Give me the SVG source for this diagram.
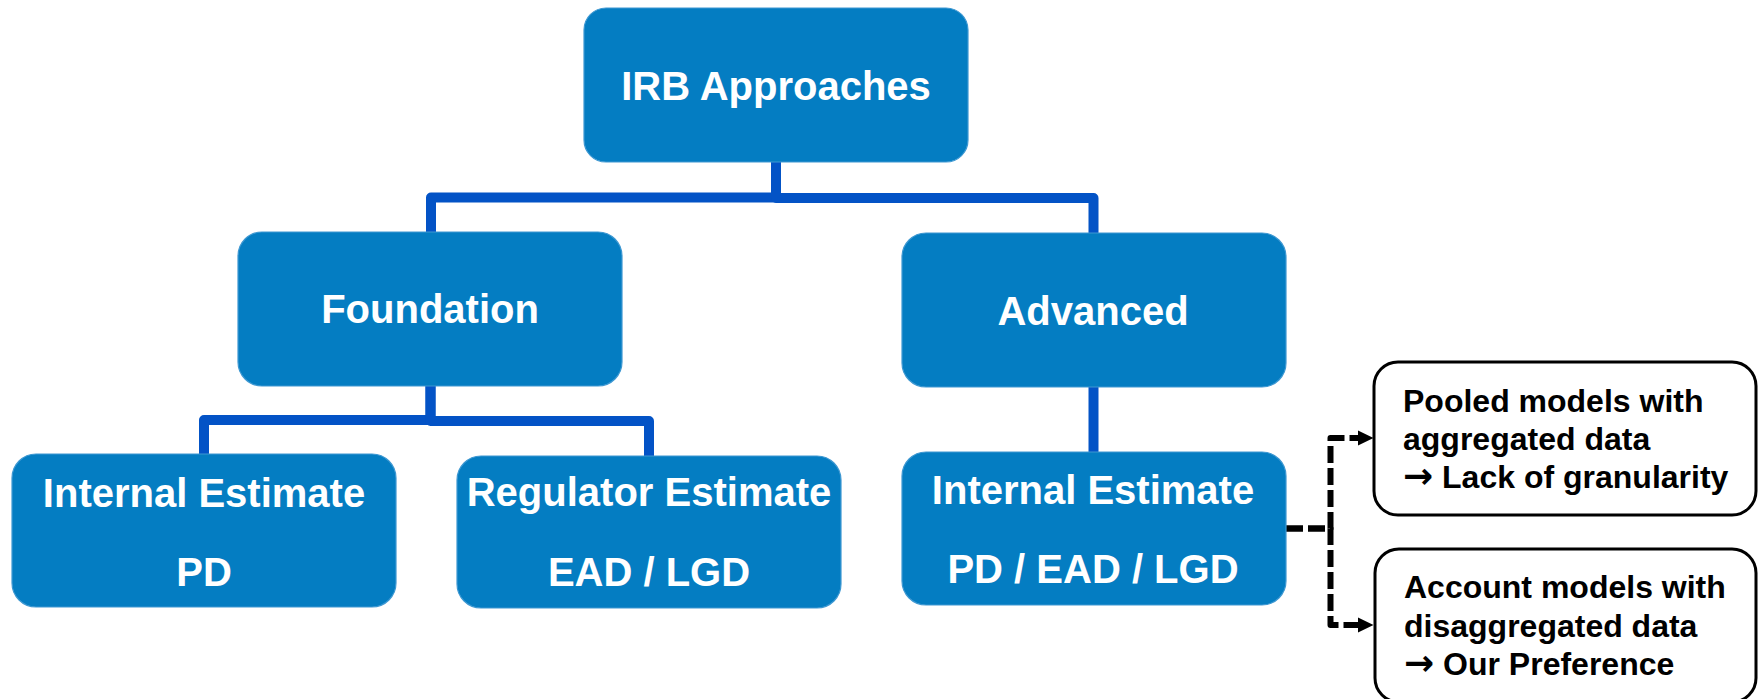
<svg xmlns="http://www.w3.org/2000/svg" width="1758" height="699" viewBox="0 0 1758 699">
  <style>
    .box { fill: #047DC2; stroke: #3E98D2; stroke-width: 1.2; }
    .wbox { fill: #FFFFFF; stroke: #000000; stroke-width: 3; }
    .t { font-family: "Liberation Sans", Arial, sans-serif; font-weight: bold; font-size: 40px; fill: #FFFFFF; text-anchor: middle; }
    .s { font-family: "Liberation Sans", Arial, sans-serif; font-weight: bold; font-size: 32px; fill: #000000; }
    .ar { font-family: "DejaVu Sans", sans-serif; font-weight: bold; font-size: 36px; }
    .tree { fill: none; stroke: #0353C6; stroke-width: 10; stroke-linejoin: round; }
    .dash { fill: none; stroke: #000000; stroke-width: 6; stroke-dasharray: 17 5; stroke-linejoin: round; }
  </style>
  <defs>
    <marker id="arr" markerUnits="userSpaceOnUse" markerWidth="16" markerHeight="16" refX="0" refY="8" orient="auto">
      <path d="M0,0.5 L15.5,8 L0,15.5 Z" fill="#000000"/>
    </marker>
  </defs>

  <g id="connectors">
    <path class="tree" d="M776,162 V197.5 H431 V233"/>
    <path class="tree" d="M776,162 V198 H1093.5 V234"/>
    <path class="tree" d="M430.5,386 V420 H204 V455"/>
    <path class="tree" d="M430.5,386 V421 H649 V457"/>
    <path class="tree" d="M1093.5,386 V453"/>
    <path class="dash" d="M1286,528.5 H1330.5 V438 H1358" marker-end="url(#arr)"/>
    <path class="dash" d="M1286,528.5 H1330.5 V625 H1358" marker-end="url(#arr)"/>
  </g>

  <g id="irb">
    <rect class="box" x="584" y="8" width="384" height="154" rx="22"/>
    <text class="t" x="776" y="100">IRB Approaches</text>
  </g>
  <g id="foundation">
    <rect class="box" x="238" y="232" width="384" height="154" rx="24"/>
    <text class="t" x="430" y="323">Foundation</text>
  </g>
  <g id="advanced">
    <rect class="box" x="902" y="233" width="384" height="154" rx="24"/>
    <text class="t" x="1093" y="325">Advanced</text>
  </g>
  <g id="internal-pd">
    <rect class="box" x="12" y="454" width="384" height="153" rx="24"/>
    <text class="t" x="204" y="507">Internal Estimate</text>
    <text class="t" x="204" y="586">PD</text>
  </g>
  <g id="regulator">
    <rect class="box" x="457" y="456" width="384" height="152" rx="24"/>
    <text class="t" x="649" y="506">Regulator Estimate</text>
    <text class="t" x="649" y="586">EAD / LGD</text>
  </g>
  <g id="internal-all">
    <rect class="box" x="902" y="452" width="384" height="153" rx="24"/>
    <text class="t" x="1093" y="504">Internal Estimate</text>
    <text class="t" x="1093" y="583">PD / EAD / LGD</text>
  </g>
  <g id="pooled">
    <rect class="wbox" x="1374" y="362" width="382" height="153" rx="24"/>
    <text class="s" x="1403" y="412">Pooled models with</text>
    <text class="s" x="1403" y="450">aggregated data</text>
    <text class="s" x="1403" y="488"><tspan class="ar">→</tspan> Lack of granularity</text>
  </g>
  <g id="account">
    <rect class="wbox" x="1375" y="549" width="381" height="153" rx="24"/>
    <text class="s" x="1404" y="598">Account models with</text>
    <text class="s" x="1404" y="637">disaggregated data</text>
    <text class="s" x="1404" y="675"><tspan class="ar">→</tspan> Our Preference</text>
  </g>
</svg>
